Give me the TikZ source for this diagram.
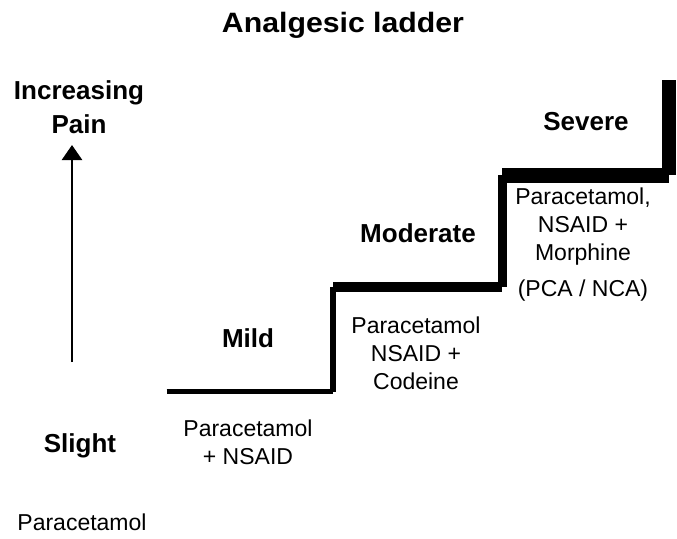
\documentclass[tikz,border=0pt]{standalone}
\usepackage{fontspec}
\setmainfont{Liberation Sans}
\newfontfamily\widebold[FakeStretch=1.08]{Liberation Sans}
\usetikzlibrary{arrows.meta}

\tikzset{
  heading/.style={font=\fontsize{28}{32}\widebold\bfseries, inner sep=0pt, anchor=base},
  level/.style={font=\fontsize{26}{30}\selectfont\bfseries, inner sep=0pt, anchor=base},
  drug/.style={font=\fontsize{23}{28}\selectfont, align=center, inner sep=0pt, anchor=base},
  stair/.style={draw=black, line cap=square}
}

\begin{document}
\begin{tikzpicture}[x=1pt,y=-1pt]
\useasboundingbox (0,0) rectangle (677,538);

% title
\node[heading] (title) at (343,32) {Analgesic ladder};

% pain axis
\node[level] (inc) at (79,99) {Increasing};
\node[level] (pain) at (79,133) {Pain};
\coordinate (axbot) at (72,362);
\coordinate (axtop) at (72,145);
\draw[line width=2.5pt, -{Triangle[width=20pt,length=15pt]}] (axbot) -- (axtop);

% the ladder
\coordinate (s0) at (166.5,391.5);
\coordinate (s1) at (333,391.5);
\coordinate (s2) at (333,287);
\coordinate (s3) at (502,287);
\coordinate (s4) at (502,175);
\coordinate (s5) at (669,175);
\coordinate (s6) at (669,80);
\draw[stair, line width=5pt] (s0) -- (s1);
\draw[stair, line width=6pt] (s1) -- (s2);
\draw[stair, line width=10pt] (s2) -- (s3);
\draw[stair, line width=9pt] (s3) -- (s4);
\draw[stair, line width=15pt] (s4) -- (s5);
\draw[stair, line width=14pt] (s5) -- (s6);

% levels
\node[level] (slight) at (80,452) {Slight};
\node[level] (mild) at (248,347) {Mild};
\node[level] (moderate) at (418,242) {Moderate};
\node[level] (severe) at (586,130) {Severe};

% drugs (base = last line)
\node[drug] (d1) at (82,530) {Paracetamol};
\node[drug] (d2) at (248,464) {Paracetamol\\+ NSAID};
\node[drug] (d3) at (416,389) {Paracetamol\\NSAID +\\Codeine};
\node[drug] (d4) at (583,260) {Paracetamol,\\NSAID +\\Morphine};
\node[drug] (d5) at (583,296) {(PCA / NCA)};

\end{tikzpicture}
\end{document}
